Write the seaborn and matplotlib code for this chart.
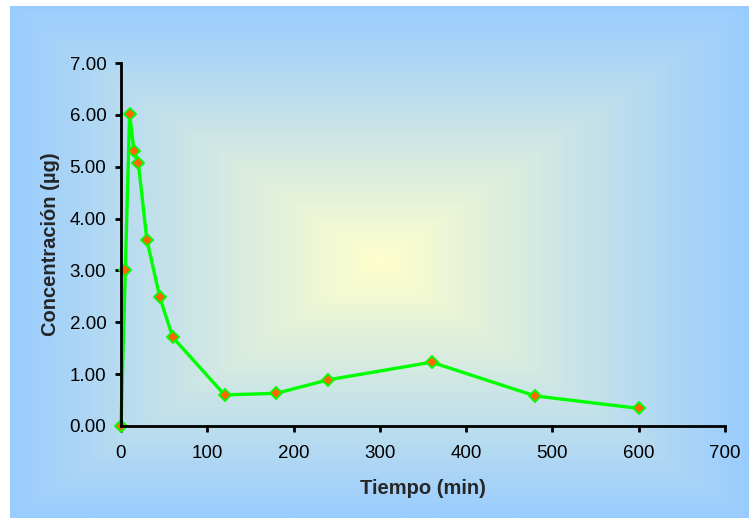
import numpy as np
import pandas as pd
import matplotlib
matplotlib.use("Agg")
import matplotlib.pyplot as plt
import seaborn as sns

# Sampling times (min) and measured concentration (µg)
tiempo = [0, 5, 10, 15, 20, 30, 45, 60, 120, 180, 240, 360, 480, 600]
concentracion = [0.00, 3.00, 6.02, 5.30, 5.08, 3.59, 2.48, 1.71, 0.60, 0.63, 0.89, 1.23, 0.58, 0.34]

x_ticks = [0, 100, 200, 300, 400, 500, 600, 700]
y_ticks = [0, 1, 2, 3, 4, 5, 6, 7]

df = pd.DataFrame({"Tiempo": tiempo, "Concentracion": concentracion})

sns.set_theme(style="white")
plt.rcParams["font.family"] = ["Liberation Sans", "DejaVu Sans"]

W, H = 749, 518
fig = plt.figure(figsize=(W / 100, H / 100), dpi=100)
fig.patch.set_facecolor("white")

# Chart-area background: rectangular gradient from a pale yellow centre to light blue edges
bg = fig.add_axes([10 / W, 0, (W - 10) / W, (H - 6) / H])
bg.set_axis_off()
nx, ny = 400, 300
gx = np.linspace(-1, 1, nx)
gy = np.linspace(-1, 1, ny)
GX, GY = np.meshgrid(gx, gy)
t = np.clip(np.maximum(np.abs(GX), np.abs(GY)), 0, 1)
center = np.array([255, 255, 204]) / 255
edge = np.array([153, 204, 255]) / 255
img = center[None, None, :] * (1 - t[..., None]) + edge[None, None, :] * t[..., None]
bg.imshow(img, aspect="auto", extent=[0, 1, 0, 1], interpolation="bilinear")
bg.set_xlim(0, 1)
bg.set_ylim(0, 1)

ax = fig.add_axes([121 / W, (H - 426) / H, (725 - 121) / W, (426 - 63) / H])
ax.set_facecolor("none")

sns.lineplot(data=df, x="Tiempo", y="Concentracion", ax=ax, sort=False,
             color="#00FF00", linewidth=2.4, marker="D", markersize=6.5,
             markerfacecolor="#FF6600", markeredgecolor="#00FF00",
             markeredgewidth=1.3, clip_on=False)

ax.set_xlim(0, 700)
ax.set_ylim(0, 7)
ax.set_xticks(x_ticks)
ax.set_yticks(y_ticks)
ax.set_xticklabels([str(v) for v in x_ticks])
ax.set_yticklabels([f"{v:.2f}" for v in y_ticks])

for side in ["top", "right"]:
    ax.spines[side].set_visible(False)
for side in ["left", "bottom"]:
    ax.spines[side].set_color("black")
    ax.spines[side].set_linewidth(2)

ax.tick_params(axis="both", which="major", direction="out", length=4.5, width=2,
               color="black", labelsize=13.5, labelcolor="black",
               bottom=True, left=True)
ax.tick_params(axis="x", pad=9.5)
ax.tick_params(axis="y", pad=6)

ax.set_xlabel("Tiempo (min)", fontsize=14.5, fontweight="bold", labelpad=12)
ax.set_ylabel("Concentración (µg)", fontsize=14.5, fontweight="bold", labelpad=7)

fig.savefig("out.png", dpi=100, facecolor=fig.get_facecolor())
